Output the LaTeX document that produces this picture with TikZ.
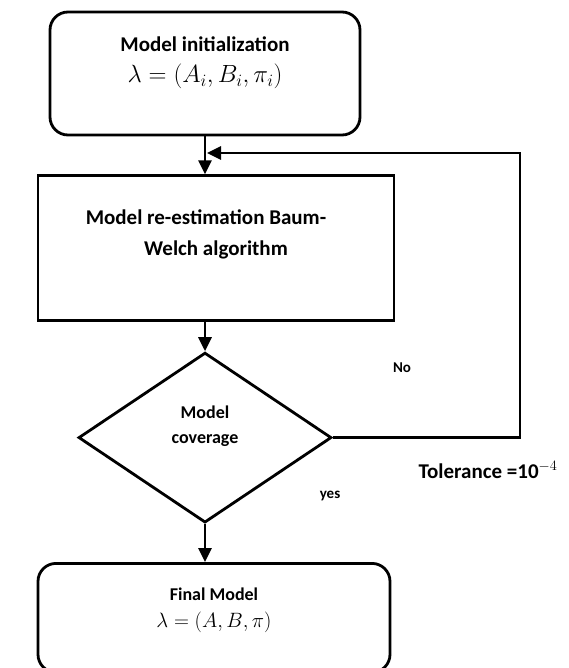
\documentclass[tikz,border=0pt]{standalone}
\usepackage{amsmath}
\usepackage{fontspec}
\setmainfont{Carlito}
\usepackage{tikz}
\usetikzlibrary{arrows.meta}
\usetikzlibrary{positioning}
\usetikzlibrary{shapes.geometric}

\begin{document}
\begin{tikzpicture}[
    x=1pt, y=-1pt,
    box/.style={draw, line width=2.8pt, rectangle, align=center, inner sep=0pt},
    roundbox/.style={box, rounded corners=18pt},
    decision/.style={draw, line width=2.8pt, diamond, align=center, inner sep=0pt},
    flow/.style={-{Triangle[length=14pt,width=13pt]}, line width=2.8pt},
    bigtext/.style={font=\fontsize{21}{31}\selectfont\bfseries},
    midtext/.style={font=\fontsize{18}{25}\selectfont\bfseries},
    smalltext/.style={font=\fontsize{15}{18}\selectfont\bfseries}
]
    \useasboundingbox (0,0) rectangle (568,668);

    % Step 1: Model initialization
    \node (init) [roundbox, bigtext, minimum width=310pt, minimum height=123pt] at (205,73.5)
        {Model initialization\\ {\fontsize{24}{28}\selectfont$\lambda = (A_i, B_i, \pi_i)$}\\[-4pt] ~};

    % Step 2: Re-estimation
    \node (est) [box, bigtext, minimum width=356pt, minimum height=145pt, below=38pt of init, xshift=11pt]
        {Model re-estimation Baum-\hspace*{20pt}\\Welch algorithm\hspace*{30pt}\\ ~};

    % Step 3: Convergence test
    \node (conv) [decision, midtext, minimum width=253pt, minimum height=170pt, below=29pt of est, xshift=-11pt]
        {Model\\coverage\\ ~};

    % Step 4: Final model
    \node (final) [roundbox, bigtext, minimum width=352pt, minimum height=109pt, below=38pt of conv, xshift=9pt]
        {{\fontsize{18}{20}\selectfont Final Model}\\[-4pt] {\fontsize{21}{25}\selectfont$\lambda = (A, B, \pi)$}\\[-10pt] ~};

    % Labels
    \node (no) [smalltext] at (402,368) {No};
    \node (tol) [bigtext] at (488,470) {Tolerance =10$^{-4}$};
    \node (yes) [smalltext] at (330,496) {yes};

    % Feedback loop
    \coordinate (corner) at (520,153);
    \coordinate (join) at (207,153);

    % Connect arrows
    \draw[flow] (init) -- (init |- est.north);
    \draw[flow] (est.south -| conv.north) -- (conv.north);
    \draw[flow] (conv) -- (conv |- final.north);
    \draw[flow] (conv.east) -| (corner) -- (join);

\end{tikzpicture}
\end{document}
